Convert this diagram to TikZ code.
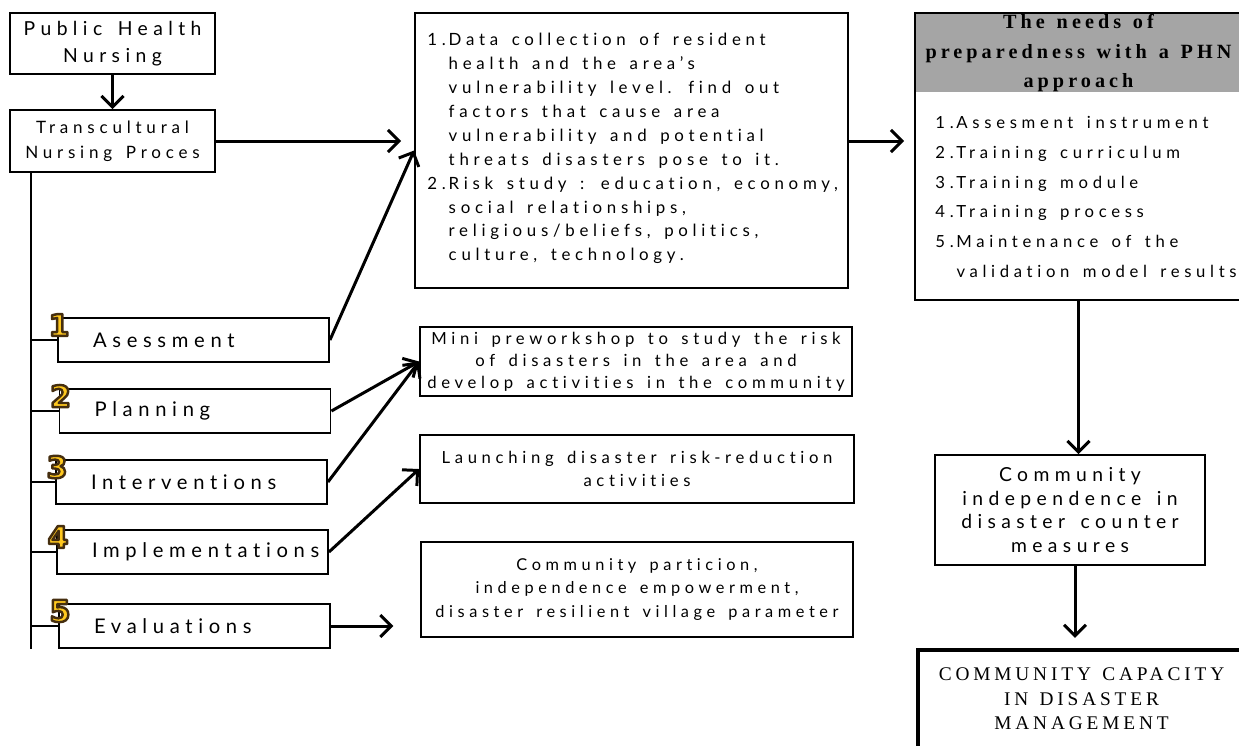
\documentclass[tikz,border=0pt]{standalone}
\usepackage{fontspec}
\usetikzlibrary{arrows.meta}
\newfontfamily\widesans[LetterSpace=28, WordSpace=1.5, Ligatures=NoCommon]{Lato}
\newfontfamily\wideserif[LetterSpace=20, WordSpace=1.3]{Liberation Serif}
\newfontfamily\badgefont{DejaVu Sans}
\definecolor{hdrgray}{RGB}{165,165,165}
\definecolor{badgefill}{RGB}{255,200,30}
\newcommand\badgedigit[1]{{\special{pdf:literal q 2 Tr 1.4 w 1 j}\textcolor{badgefill}{\special{pdf:literal 0.27 0.18 0.06 RG}#1}\special{pdf:literal Q}}}

\tikzset{
	box/.style={draw, line width=1.1pt, inner sep=0pt, align=center, font=\widesans\fontsize{9.5}{13.4}\selectfont},
	stepbox/.style={box, minimum width=5.42cm, minimum height=0.88cm, text width=5.42cm, align=left, font=\widesans\fontsize{11.5}{14}\selectfont},
	link/.style={line width=1.7pt, -{Straight Barb[length=2.2mm,width=4.4mm]}},
	tick/.style={line width=1.1pt},
	badge/.style={font=\badgefont\bfseries\fontsize{17}{17}\selectfont, inner sep=0pt},
}

\begin{document}
\begin{tikzpicture}[x=0.02cm, y=-0.02cm]
	\useasboundingbox (0,0) rectangle (1239,745);
	% left column
	\node[box, minimum width=4.1cm, minimum height=1.22cm, font=\widesans\fontsize{11}{15}\selectfont] (phn) at (112.5,43.5) {Public Health\\Nursing};
	\node[box, minimum width=4.1cm, minimum height=1.24cm, font=\widesans\fontsize{9.7}{14}\selectfont] (tnp) at (112.5,141) {Transcultural\\Nursing Proces};
	\draw[link] (phn.south) -- (tnp.north);
	\draw[tick] ([xshift=0.44cm]tnp.south west) coordinate (spinetop) -- ++(0,-9.52cm) coordinate (spinebot);
	% steps
	\node[stepbox] (s1) at (193.5,340) {\hspace*{0.7cm}Asessment};
	\node[stepbox] (s2) at (195,411) {\hspace*{0.7cm}Planning};
	\node[stepbox] (s3) at (191.5,482) {\hspace*{0.7cm}Interventions};
	\node[stepbox] (s4) at (192.5,552) {\hspace*{0.7cm}Implementations};
	\node[stepbox] (s5) at (194.5,626) {\hspace*{0.7cm}Evaluations};
	\foreach \s/\n in {s1/1,s2/2,s3/3,s4/4,s5/5}{
		\draw[tick] (\s.west -| spinetop) -- (\s.west);
		\node[badge] (b\n) at ([xshift=0.04cm,yshift=-0.16cm]\s.north west) {\badgedigit{\n}};
	}
	% middle column
	\node[box, minimum width=8.66cm, minimum height=5.5cm] (data) at (631.5,150.5) {};
	\node[anchor=west, inner sep=0pt, font=\widesans\fontsize{9.6}{13.6}\selectfont] (datatext) at ([xshift=0.26cm,yshift=0.04cm]data.west) {%
		\begin{tabular}{@{}r@{\,}l@{}}
			1. & Data collection of resident\\
			   & health and the area’s\\
			   & vulnerability level. find out\\
			   & factors that cause area\\
			   & vulnerability and potential\\
			   & threats disasters pose to it.\\
			2. & Risk study : education, economy,\\
			   & social relationships,\\
			   & religious/beliefs, politics,\\
			   & culture, technology.
		\end{tabular}};
	\node[box, minimum width=8.64cm, minimum height=1.38cm, font=\widesans\fontsize{9.5}{12.5}\selectfont] (mini) at (636,361.5) {Mini preworkshop to study the risk\\of disasters in the area and\\develop activities in the community};
	\node[box, minimum width=8.68cm, minimum height=1.36cm] (launch) at (637,469) {Launching disaster risk-reduction\\activities};
	\node[box, minimum width=8.64cm, minimum height=1.9cm, font=\widesans\fontsize{9.3}{13.4}\selectfont] (part) at (637,589.5) {Community particion,\\independence empowerment,\\disaster resilient village parameter};
	\draw[link, shorten >=0.26cm] (tnp.east) -- (tnp.east -| data.west);
	\draw[link] (s1.east) -- (data.west);
	\draw[link] (s2.east) -- (mini.west);
	\draw[link] (s3.east) -- (mini.west);
	\draw[link] (s4.east) -- (launch.west);
	\draw[link] (s5.east) -- ++(1.25cm,0) coordinate (evalend);
	% right column
	\node[box, minimum width=6.54cm, minimum height=5.74cm, path picture={\fill[hdrgray] (path picture bounding box.north west) rectangle ([yshift=-1.58cm]path picture bounding box.north east);}] (needs) at (1078.5,156.5) {};
	\node[align=center, inner sep=0pt, font=\wideserif\bfseries\fontsize{11.5}{17}\selectfont] (needshead) at ([yshift=-0.82cm]needs.north) {The needs of\\preparedness with a PHN\\approach};
	\node[anchor=north west, inner sep=0pt, font=\widesans\fontsize{9.5}{17}\selectfont] (needslist) at ([xshift=0.42cm,yshift=-1.9cm]needs.north west) {%
		\begin{tabular}{@{}r@{\,}l@{}}
			1. & Assesment instrument\\
			2. & Training curriculum\\
			3. & Training module\\
			4. & Training process\\
			5. & Maintenance of the\\
			   & validation model results
		\end{tabular}};
	\draw[link, shorten >=0.2cm] ([yshift=0.19cm]data.east) -- ([yshift=0.19cm]data.east -| needs.west);
	\node[box, minimum width=5.4cm, minimum height=2.2cm, font=\widesans\fontsize{11}{13.6}\selectfont] (indep) at (1070,510) {Community\\independence in\\disaster counter\\measures};
	\node[box, line width=2.4pt, minimum width=6.54cm, minimum height=1.96cm, font=\wideserif\fontsize{11}{14}\selectfont] (capacity) at (1081.5,699) {COMMUNITY CAPACITY\\IN DISASTER\\MANAGEMENT};
	\draw[link] (needs.south) -- (needs.south |- indep.north);
	\draw[link, shorten >=0.2cm] ([xshift=0.1cm]indep.south) -- ([xshift=0.1cm]indep.south |- capacity.north);
\end{tikzpicture}
\end{document}
